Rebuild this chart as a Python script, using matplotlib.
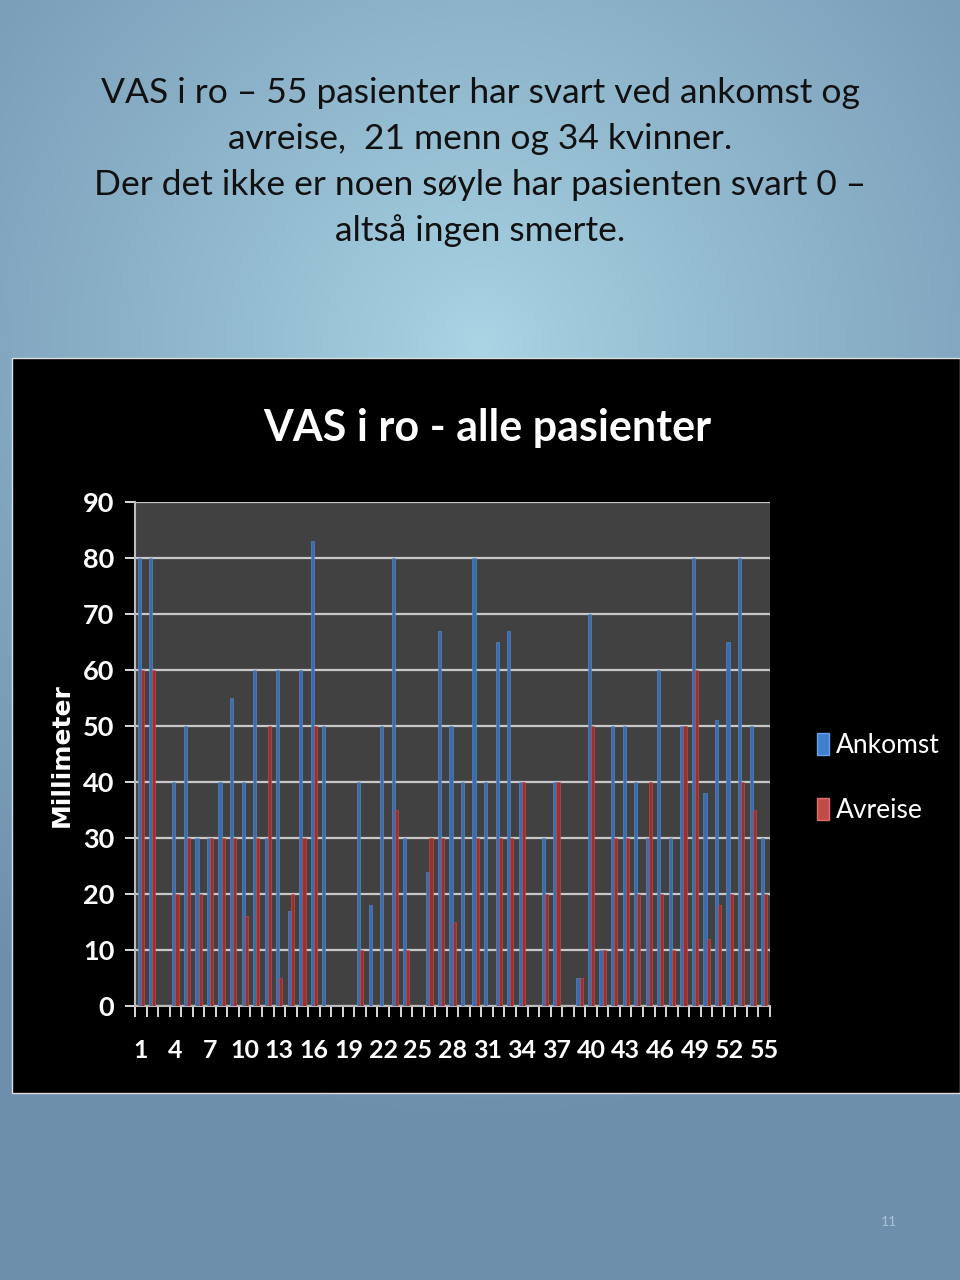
import numpy as np
import matplotlib
matplotlib.use("Agg")
import matplotlib.pyplot as plt
from matplotlib.patches import Rectangle, Patch

# ---------------- data ----------------
patients = list(range(1, 56))
ankomst = [80, 80, 0, 40, 50, 30, 30, 40, 55, 40,
           60, 30, 60, 17, 60, 83, 50, 0, 0, 40,
           18, 50, 80, 30, 0, 24, 67, 50, 40, 80,
           40, 65, 67, 40, 0, 30, 40, 0, 5, 70,
           10, 50, 50, 40, 30, 60, 30, 50, 80, 38,
           51, 65, 80, 50, 30]
avreise = [60, 60, 0, 20, 30, 20, 30, 30, 30, 16,
           30, 50, 5, 20, 30, 50, 0, 0, 0, 10,
           0, 0, 35, 10, 0, 30, 30, 15, 0, 30,
           0, 30, 30, 40, 0, 20, 40, 0, 5, 50,
           10, 30, 30, 20, 40, 20, 10, 50, 60, 12,
           18, 20, 40, 35, 20]
x_labels = [str(v) for v in range(1, 56, 3)]
y_ticks = list(range(0, 100, 10))
series_names = ["Ankomst", "Avreise"]
chart_title = "VAS i ro - alle pasienter"
y_label = "Millimeter"
slide_lines = ["VAS i ro – 55 pasienter har svart ved ankomst og",
               "avreise,  21 menn og 34 kvinner.",
               "Der det ikke er noen søyle har pasienten svart 0 –",
               "altså ingen smerte."]
page_no = "11"

W, H = 960, 1280
fig = plt.figure(figsize=(W / 100, H / 100), dpi=100)

# ---------------- slide background (radial gradient) ----------------
bg = fig.add_axes([0, 0, 1, 1])
bg.set_axis_off()
yy, xx = np.mgrid[0:H, 0:W]
r = np.sqrt(((xx - 480) / 1.0) ** 2 + ((yy - 345) / 1.0) ** 2)
t = np.clip(r / 780.0, 0, 1) ** 0.85
c0 = np.array([170, 214, 230]) / 255.0
c1 = np.array([110, 143, 172]) / 255.0
img = c0[None, None, :] * (1 - t[..., None]) + c1[None, None, :] * t[..., None]
bg.imshow(img, extent=[0, W, H, 0], aspect="auto")
bg.set_xlim(0, W)
bg.set_ylim(H, 0)

# slide text
fam_slide = ["Lato", "DejaVu Sans"]
for i, line in enumerate(slide_lines):
    fig.text(0.5, 1 - (93 + i * 46) / H, line, ha="center", va="center",
             fontsize=25.5, color="#111111", family=fam_slide)
fig.text(889 / W, 1 - 1222 / H, page_no, ha="center", va="center",
         fontsize=10, color="#a8c2d6", family=fam_slide)

# black chart picture
fig.patches.append(Rectangle((12 / W, 1 - 1093 / H), 1 - 12 / W, (1093 - 358) / H,
                             transform=fig.transFigure, facecolor="black",
                             edgecolor="#dddddd", linewidth=1.0, zorder=1))

fam = ["Lato", "DejaVu Sans"]
fig.text(487 / W, 1 - 428 / H, chart_title, ha="center", va="center",
         fontsize=31, fontweight="bold", color="white", family=fam, zorder=3)

# ---------------- chart ----------------
ax = fig.add_axes([135 / W, 1 - 1006 / H, 635 / W, 504 / H], zorder=2)
ax.set_facecolor("#414141")
x = np.array(patients, dtype=float)
bw = 0.27
ax.bar(x - bw / 2, ankomst, width=bw, color="#3b6cae", edgecolor="#5a8ed4",
       linewidth=0.4, zorder=3, label=series_names[0])
ax.bar(x + bw / 2, avreise, width=bw, color="#9e2f2d", edgecolor="#c25350",
       linewidth=0.4, zorder=3, label=series_names[1])

ax.set_xlim(0.5, 55.5)
ax.set_ylim(0, 90)
ax.set_yticks(y_ticks)
ax.set_yticklabels([str(v) for v in y_ticks])
ax.yaxis.grid(True, color="#c8c8c8", linewidth=1.6, zorder=1)
ax.set_axisbelow(True)

ax.set_xticks(list(range(1, 56, 3)))
ax.set_xticklabels(x_labels)
ax.set_xticks(np.arange(0.5, 56, 1.0), minor=True)
ax.tick_params(axis="x", which="major", length=0, pad=24)
ax.tick_params(axis="x", which="minor", length=8, width=1.2, color="white")
ax.tick_params(axis="y", length=7, width=1.2, color="white", pad=8)
for lab in ax.get_yticklabels():
    lab.set_color("white")
    lab.set_fontsize(19.5)
    lab.set_fontweight("bold")
    lab.set_family(fam)
for lab in ax.get_xticklabels():
    lab.set_color("white")
    lab.set_fontsize(18)
    lab.set_fontweight("bold")
    lab.set_family(fam)

for s in ["top", "right"]:
    ax.spines[s].set_visible(False)
ax.spines["left"].set_color("#bbbbbb")
ax.spines["bottom"].set_color("#bbbbbb")
ax.spines["left"].set_linewidth(1.5)
ax.spines["bottom"].set_linewidth(1.5)

fig.text(62 / W, 1 - 755 / H, y_label, rotation=90, ha="center", va="center",
         fontsize=18, fontweight="bold", color="white", family=["DejaVu Sans"],
         zorder=3)

# legend
handles = [Patch(facecolor="#3f7fd0", edgecolor="#6aa0e6"),
           Patch(facecolor="#c04a48", edgecolor="#e07070")]
leg = fig.legend(handles, series_names, loc="center left",
                 bbox_to_anchor=(796 / W, 1 - 778 / H), frameon=False,
                 handlelength=0.45, handleheight=0.9, handletextpad=0.25,
                 labelspacing=1.5, borderpad=0.3, prop={"family": fam, "size": 19})
for txt in leg.get_texts():
    txt.set_color("white")

fig.savefig("out.png", dpi=100)
